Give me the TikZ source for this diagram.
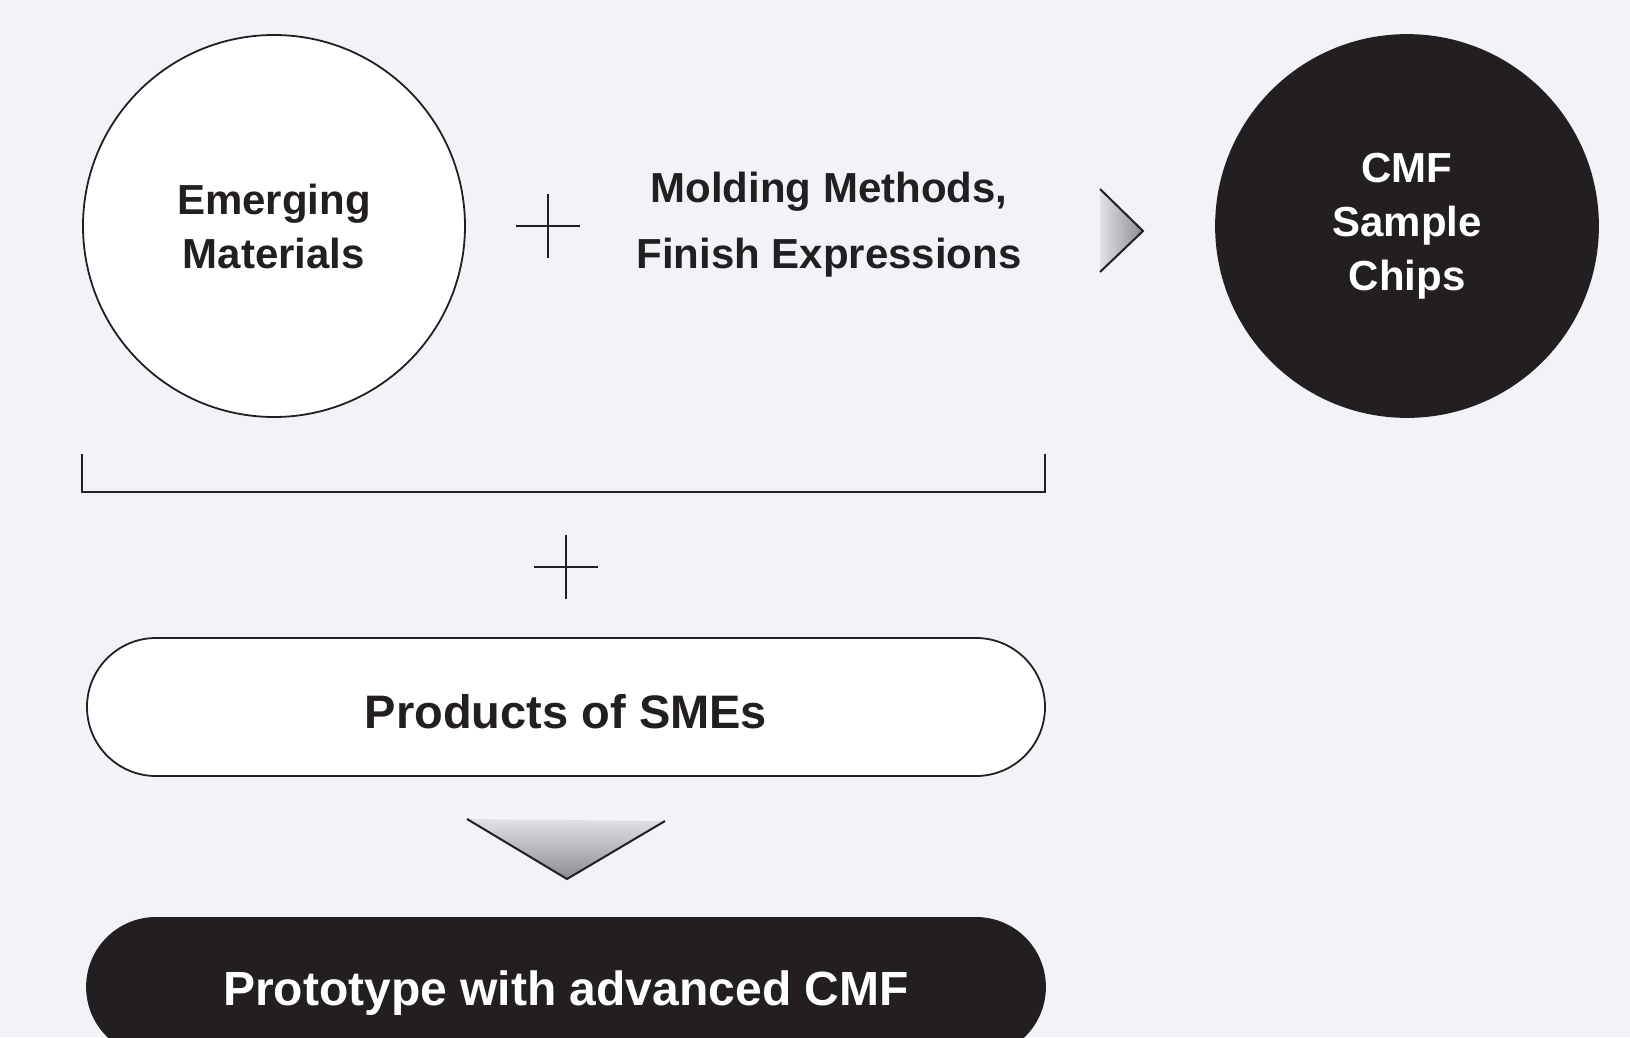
\documentclass[tikz,border=0pt]{standalone}
\usepackage{fontspec}
\setmainfont{Liberation Sans}
\usetikzlibrary{positioning}

\definecolor{bgcol}{HTML}{F2F3F8}
\definecolor{ink}{HTML}{231F20}
\definecolor{shlight}{HTML}{E2E2E6}
\definecolor{shdark}{HTML}{8C8C90}

\tikzset{
  bubble/.style={circle, draw=ink, line width=1.8pt, minimum size=382pt, inner sep=0pt,
    align=center, font=\bfseries\fontsize{42}{54}\selectfont},
  pill/.style={draw=ink, line width=1.8pt, rounded corners=69pt, minimum width=958pt,
    minimum height=138pt, inner sep=0pt},
  pilltext/.style={font=\bfseries\fontsize{47}{60}\selectfont},
  plus/.style={line width=2pt, draw=ink},
}

\begin{document}
\begin{tikzpicture}[x=1pt, y=-1pt]
  \fill[bgcol] (0,0) rectangle (1630,1037);
  \useasboundingbox (0,0) rectangle (1630,1037);

  \node[bubble, fill=white, text=ink] (mat) at (274,226) {Emerging\\Materials};
  \node[bubble, fill=ink, text=white] (chips) at (1407,226) {CMF\\Sample\\Chips};
  \node[align=center, text=ink, font=\bfseries\fontsize{42}{66}\selectfont] (methods) at (829,225)
    {Molding Methods,\\Finish Expressions};

  \node[pill, fill=white] (smes) at (566,707) {};
  \node[pilltext, text=ink] (smeslabel) at (566,712) {Products of SMEs};
  \node[pill, fill=ink, anchor=north] (proto) at (566,917) {};
  \node[pilltext, text=white, font=\bfseries\fontsize{48}{60}\selectfont] (protolabel) at (566,993)
    {Prototype with advanced CMF};

  % plus signs
  \coordinate (plusA) at (548,226);
  \coordinate (plusB) at (566,567);
  \foreach \p in {plusA,plusB} {
    \draw[plus] ([xshift=-32pt]\p) -- ([xshift=32pt]\p);
    \draw[plus] ([yshift=-32pt]\p) -- ([yshift=32pt]\p);
  }

  % bracket under the first row
  \draw[ink, line width=2pt] (82,454) |- (1045,492) -- (1045,454);

  % arrow heads
  \shade[left color=shlight, right color=shdark] (1100,189) -- (1143,231) -- (1100,272) -- cycle;
  \draw[ink, line width=2pt] (1100,189) -- (1143,231) -- (1100,272);
  \shade[top color=shlight, bottom color=shdark] (467,819) -- (567,879) -- (665,821) -- cycle;
  \draw[ink, line width=2pt] (467,819) -- (567,879) -- (665,821);
\end{tikzpicture}
\end{document}
